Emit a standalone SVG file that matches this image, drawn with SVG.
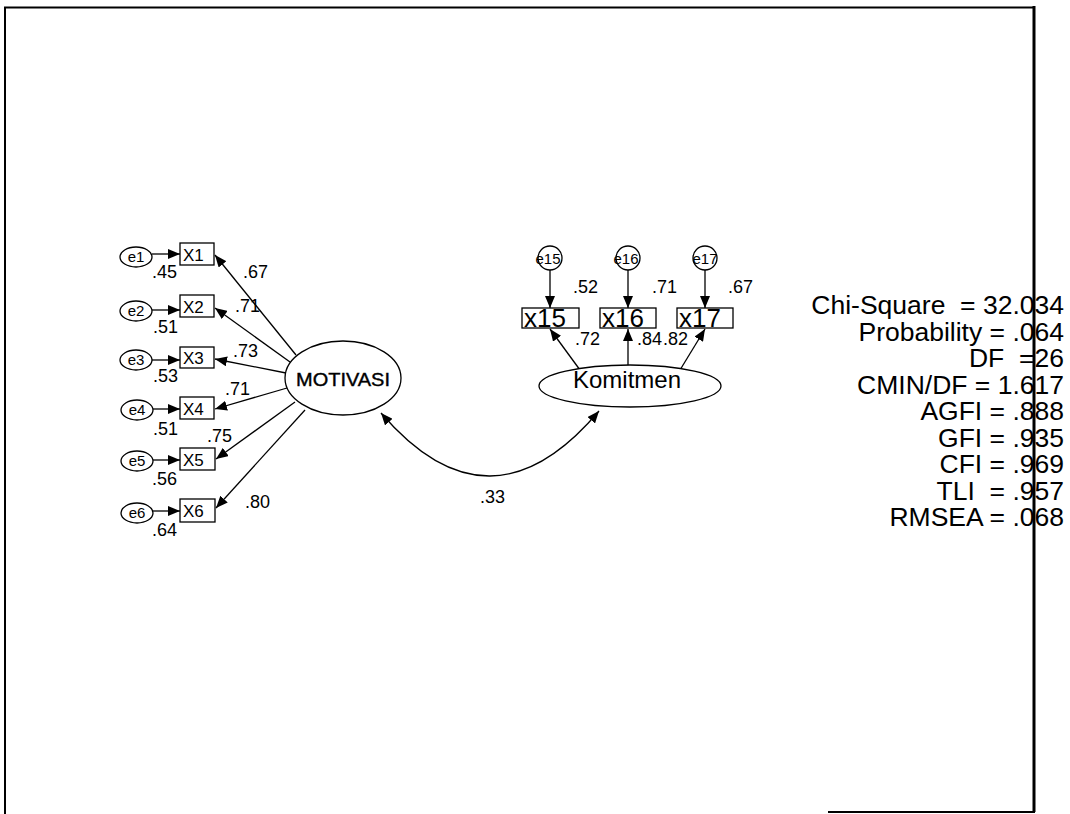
<svg xmlns="http://www.w3.org/2000/svg" width="1070" height="814" viewBox="0 0 1070 814">
<defs>
<marker id="ah" markerUnits="userSpaceOnUse" markerWidth="12" markerHeight="10" refX="12" refY="5" orient="auto-start-reverse"><path d="M0,0 L12,5 L0,10 z" fill="#000"/></marker>
<style>
.t{font-family:"Liberation Sans",Arial,sans-serif;fill:#000}
.s{font-size:18px}
.e{font-size:15px;text-anchor:middle}
.x{font-size:17px}
.big{font-size:26px}
.fit{font-size:26.5px;text-anchor:end;white-space:pre}
.n{fill:#fff;stroke:#000;stroke-width:1.3}
.c{fill:none;stroke:#000;stroke-width:1.3}
.a{fill:none;stroke:#000;stroke-width:1.3;marker-end:url(#ah)}
</style>
</defs>
<rect width="1070" height="814" fill="#fff"/>
<g id="frame" fill="none" stroke="#000">
<path d="M5 814 V7.5 H1034" stroke-width="2"/>
<path d="M1034 6 V812" stroke-width="3"/>
<path d="M828 812 H1035" stroke-width="2"/>
</g>
<g id="connectors">
<line class="a" x1="152" y1="254" x2="180" y2="254"/>
<line class="a" x1="152" y1="310" x2="180" y2="310"/>
<line class="a" x1="152" y1="360" x2="180" y2="360"/>
<line class="a" x1="153" y1="409" x2="180" y2="409"/>
<line class="a" x1="153" y1="460" x2="180" y2="460"/>
<line class="a" x1="153" y1="511" x2="180" y2="511"/>
<line class="a" x1="296" y1="355" x2="215" y2="255"/>
<line class="a" x1="290" y1="362" x2="215" y2="308"/>
<line class="a" x1="286" y1="373" x2="215" y2="359"/>
<line class="a" x1="287" y1="388" x2="215" y2="409"/>
<line class="a" x1="295" y1="402" x2="216" y2="459"/>
<line class="a" x1="305" y1="410" x2="216" y2="508"/>
<line class="a" x1="550" y1="270" x2="550" y2="308"/>
<line class="a" x1="628" y1="270" x2="628" y2="308"/>
<line class="a" x1="705" y1="270" x2="705" y2="308"/>
<line class="a" x1="580" y1="370" x2="550" y2="329"/>
<line class="a" x1="628" y1="365" x2="628" y2="329"/>
<line class="a" x1="680" y1="370" x2="705" y2="329"/>
<path class="c" d="M381 413 Q490 540 599 411" marker-start="url(#ah)" marker-end="url(#ah)"/>
</g>
<g id="e1"><ellipse class="n" cx="136" cy="257" rx="16" ry="10"/><text class="t e" x="136" y="262">e1</text></g>
<g id="e2"><ellipse class="n" cx="136" cy="311" rx="16" ry="10"/><text class="t e" x="136" y="316">e2</text></g>
<g id="e3"><ellipse class="n" cx="136" cy="360" rx="16" ry="10"/><text class="t e" x="136" y="365">e3</text></g>
<g id="e4"><ellipse class="n" cx="137" cy="410" rx="16" ry="10"/><text class="t e" x="137" y="415">e4</text></g>
<g id="e5"><ellipse class="n" cx="137" cy="461" rx="16" ry="10"/><text class="t e" x="137" y="466">e5</text></g>
<g id="e6"><ellipse class="n" cx="137" cy="513" rx="16" ry="10"/><text class="t e" x="137" y="518">e6</text></g>
<g id="X1"><rect class="n" x="180" y="243" width="34" height="22"/><text class="t x" x="183" y="261">X1</text></g>
<g id="X2"><rect class="n" x="180" y="295" width="34" height="22"/><text class="t x" x="183" y="313">X2</text></g>
<g id="X3"><rect class="n" x="180" y="347" width="34" height="21"/><text class="t x" x="183" y="364">X3</text></g>
<g id="X4"><rect class="n" x="180" y="397" width="34" height="22"/><text class="t x" x="183" y="415">X4</text></g>
<g id="X5"><rect class="n" x="180" y="448" width="35" height="22"/><text class="t x" x="183" y="466">X5</text></g>
<g id="X6"><rect class="n" x="180" y="499" width="35" height="23"/><text class="t x" x="183" y="517">X6</text></g>
<g id="MOTIVASI"><ellipse class="n" cx="343" cy="378" rx="58" ry="37"/><text class="t" x="296" y="386" font-size="19" textLength="94" lengthAdjust="spacingAndGlyphs" stroke="#000" stroke-width="0.4">MOTIVASI</text></g>
<g id="e15"><circle class="n" cx="550" cy="258" r="12"/><text class="t e" x="548" y="264">e15</text></g>
<g id="e16"><circle class="n" cx="628" cy="258" r="12"/><text class="t e" x="626" y="264">e16</text></g>
<g id="e17"><circle class="n" cx="705" cy="258" r="12"/><text class="t e" x="705" y="264">e17</text></g>
<g id="x15"><rect class="n" x="522" y="308" width="57" height="20"/><text class="t big" x="524" y="327">x15</text></g>
<g id="x16"><rect class="n" x="600" y="308" width="56" height="20"/><text class="t big" x="602" y="327">x16</text></g>
<g id="x17"><rect class="n" x="677" y="308" width="56" height="20"/><text class="t big" x="679" y="327">x17</text></g>
<g id="Komitmen"><ellipse class="n" cx="630" cy="386" rx="91" ry="21"/><text class="t" x="627" y="388" font-size="24" text-anchor="middle">Komitmen</text></g>
<g id="labels" class="t s">
<text x="152" y="278">.45</text>
<text x="153" y="333">.51</text>
<text x="153" y="382">.53</text>
<text x="153" y="435">.51</text>
<text x="152" y="485">.56</text>
<text x="152" y="536">.64</text>
<text x="243" y="278">.67</text>
<text x="235" y="312">.71</text>
<text x="233" y="357">.73</text>
<text x="225" y="395">.71</text>
<text x="207" y="442">.75</text>
<text x="245" y="508">.80</text>
<text x="573" y="293">.52</text>
<text x="652" y="293">.71</text>
<text x="728" y="293">.67</text>
<text x="575" y="345">.72</text>
<text x="637" y="345">.84</text>
<text x="663" y="345">.82</text>
<text x="480" y="503">.33</text>
</g>
<g id="fit" class="t fit">
<text x="1064" y="314" xml:space="preserve">Chi-Square  = 32.034</text>
<text x="1064" y="340.5">Probability = .064</text>
<text x="1064" y="367" xml:space="preserve">DF  =26</text>
<text x="1064" y="393.5">CMIN/DF = 1.617</text>
<text x="1064" y="420">AGFI = .888</text>
<text x="1064" y="446.5">GFI = .935</text>
<text x="1064" y="473">CFI = .969</text>
<text x="1064" y="499.5" xml:space="preserve">TLI  = .957</text>
<text x="1064" y="526">RMSEA = .068</text>
</g>
</svg>
